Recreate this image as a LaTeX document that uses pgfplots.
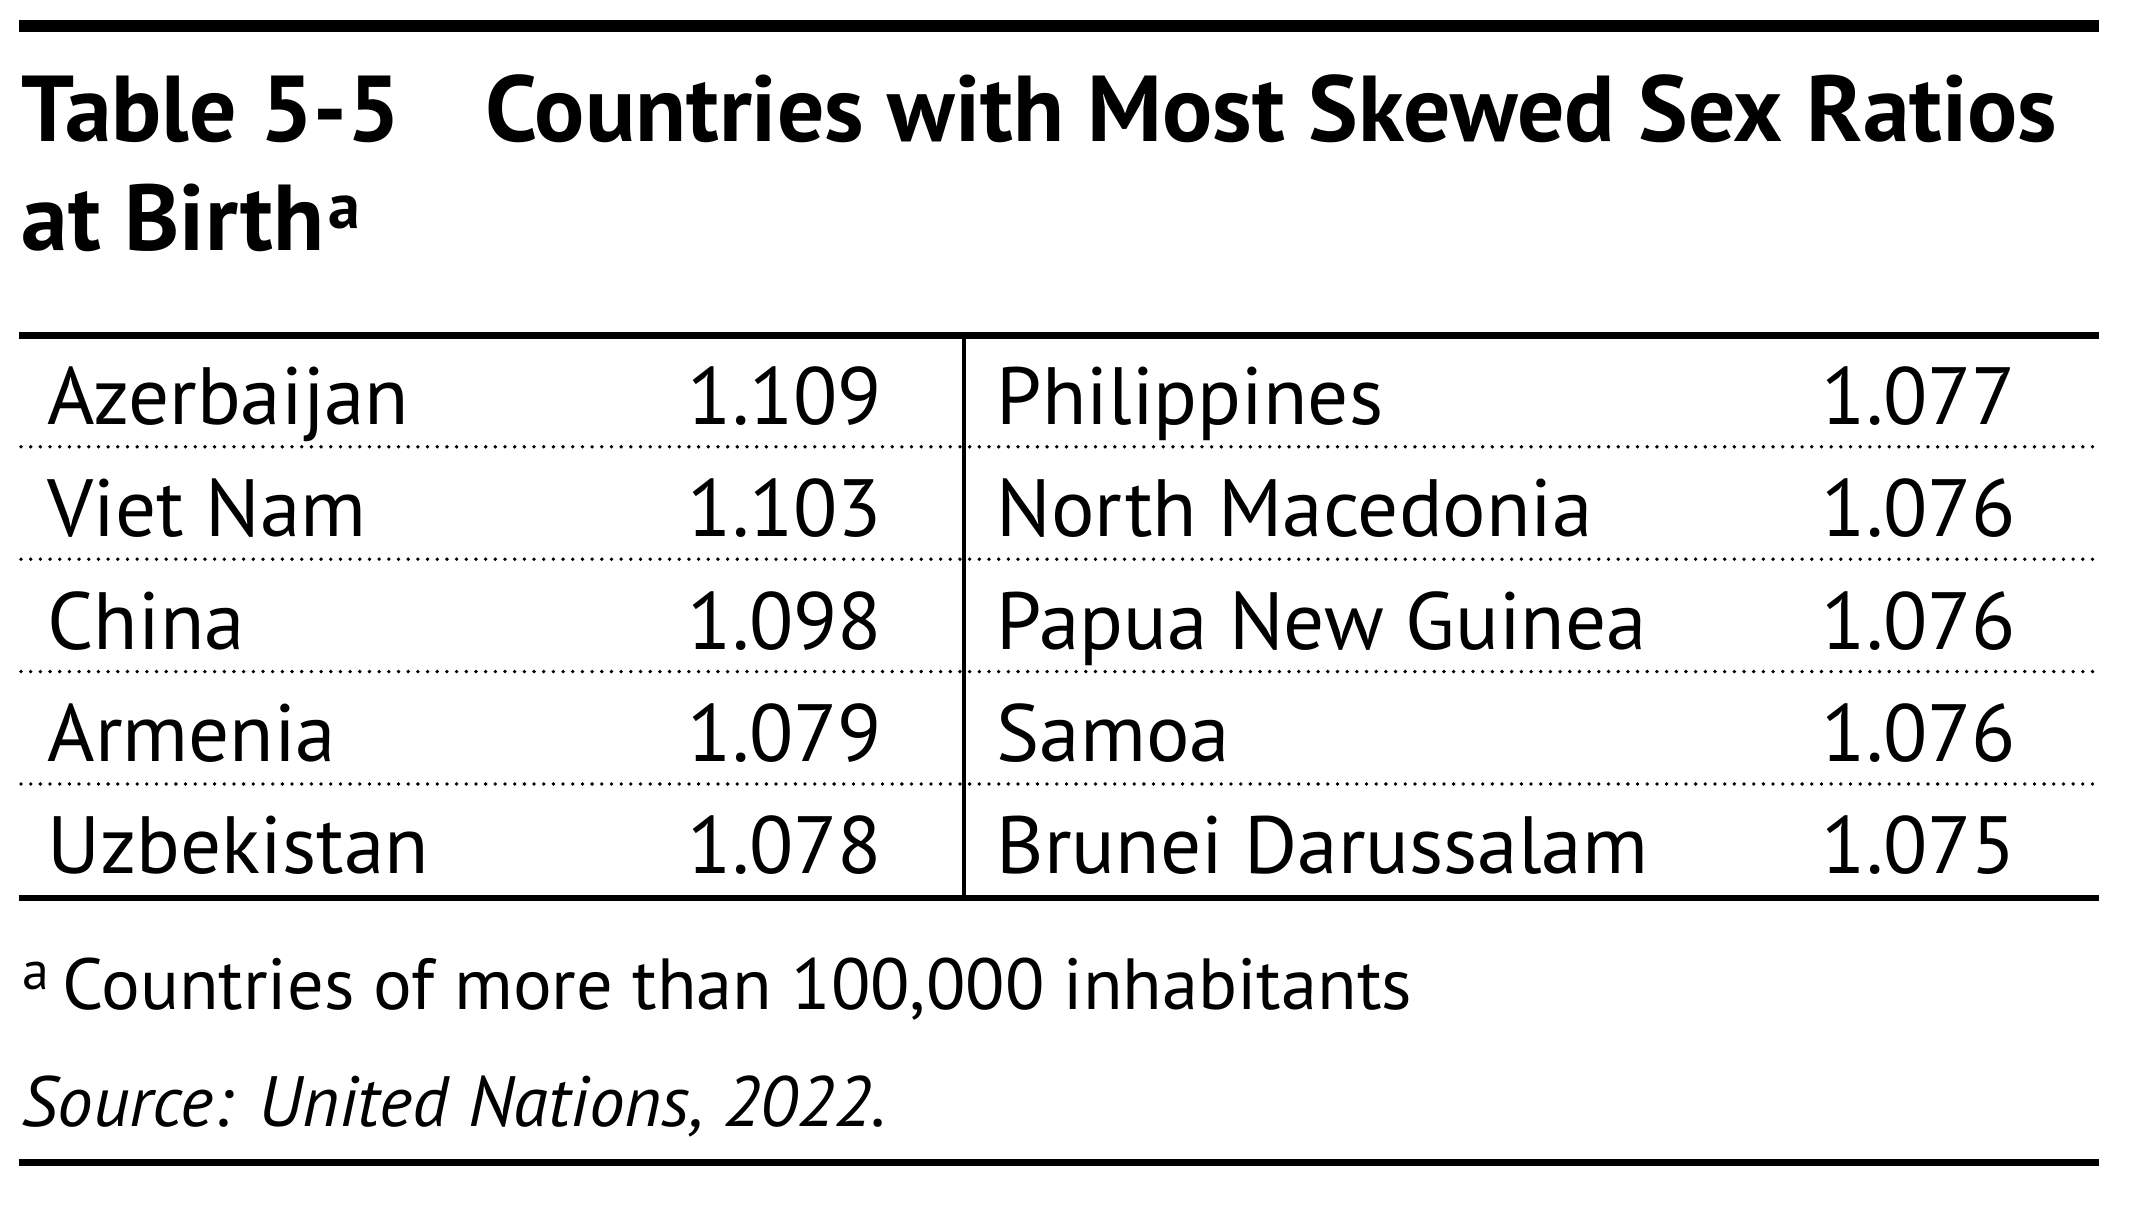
\documentclass[border=0pt]{standalone}
\usepackage{fontspec}
\setmainfont{PT Sans}
\usepackage{pgfplots}
\usepackage{pgfplotstable}
\pgfplotsset{compat=1.18}

\newcommand\rowfont{\fontsize{20.3}{24}\selectfont}
\newcommand\titlefont{\bfseries\fontsize{23.4}{28}\selectfont}
\newcommand\notefont{\fontsize{18.1}{22}\selectfont}

% sex ratio at birth, two columns of five countries
\pgfplotstableread[col sep=comma]{
y,lname,lval,rname,rval
424.4,Azerbaijan,1.109,Philippines,1.077
536.8,Viet Nam,1.103,North Macedonia,1.076
649.2,China,1.098,Papua New Guinea,1.076
761.6,Armenia,1.079,Samoa,1.076
874,Uzbekistan,1.078,Brunei Darussalam,1.075
}\ratios

\begin{document}
\begin{tikzpicture}
\begin{axis}[
  scale only axis,
  width=534pt, height=301.75pt,
  xmin=0, xmax=2136, ymin=0, ymax=1207,
  y dir=reverse,
  hide axis, clip=false,
  every node near coord/.append style={text=black, inner sep=0pt, font=\rowfont},
]
% rules
\addplot[black, line width=3pt] coordinates {(19,26) (2099,26)};
\addplot[black, line width=1.6pt] coordinates {(19,335.5) (2099,335.5)};
\addplot[black, line width=1.5pt] coordinates {(19,898) (2099,898)};
\addplot[black, line width=1.75pt] coordinates {(19,1162.5) (2099,1162.5)};
\addplot[black, line width=1pt] coordinates {(964,335.5) (964,898)};
% dotted row separators
\foreach \yy in {446.8,559.2,671.6,784} {
  \edef\tmp{\noexpand\addplot[black, line width=0.95pt, line cap=round, dash pattern=on 0pt off 2.42pt] coordinates {(21,\yy) (2099,\yy)};}
  \tmp
}
% table cells
\addplot[draw=none, nodes near coords, point meta=explicit symbolic,
  every node near coord/.append style={anchor=base west}]
  table[x expr=46.7, y=y, meta=lname] {\ratios};
\addplot[draw=none, nodes near coords, point meta=explicit symbolic,
  every node near coord/.append style={anchor=base east}]
  table[x expr=883, y=y, meta=lval] {\ratios};
\addplot[draw=none, nodes near coords, point meta=explicit symbolic,
  every node near coord/.append style={anchor=base west}]
  table[x expr=996, y=y, meta=rname] {\ratios};
\addplot[draw=none, nodes near coords, point meta=explicit symbolic,
  every node near coord/.append style={anchor=base east}]
  table[x expr=2017, y=y, meta=rval] {\ratios};
% title
\node[anchor=base west, inner sep=0pt] at (axis cs:21,141.6) {\titlefont Table 5-5};
\node[anchor=base west, inner sep=0pt] at (axis cs:485,141.6) {\titlefont Countries with Most Skewed Sex Ratios};
\node[anchor=base west, inner sep=0pt] at (axis cs:21,250.7) {\titlefont at Birth\kern1pt\raisebox{5.6pt}{\fontsize{16}{18}\selectfont a}};
% notes
\node[anchor=base west, inner sep=0pt] at (axis cs:21.7,990) {\fontsize{13.5}{15}\selectfont a};
\node[anchor=base west, inner sep=0pt] at (axis cs:61.7,1010) {\notefont Countries of more than 100,000 inhabitants};
\node[anchor=base west, inner sep=0pt] at (axis cs:21,1126.7) {\fontsize{17.8}{22}\selectfont\itshape Source: United Nations, 2022.};
\end{axis}
\pgfresetboundingbox
\path (current axis.south west) rectangle (current axis.north east);
\end{tikzpicture}
\end{document}
